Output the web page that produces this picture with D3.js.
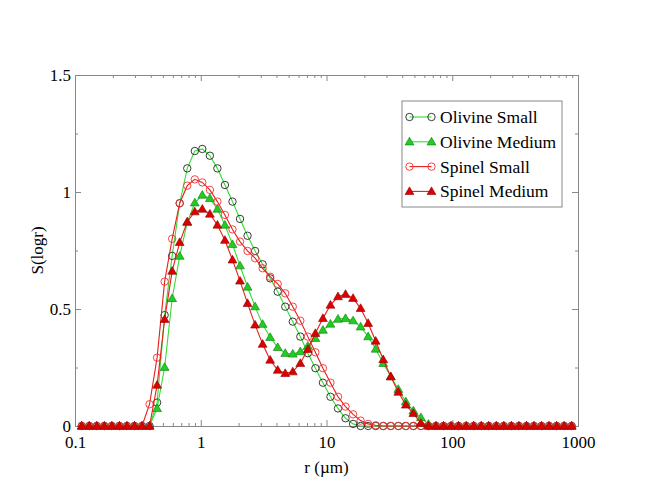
<!DOCTYPE html>
<html>
<head>
<meta charset="utf-8">
<script src="https://cdn.jsdelivr.net/npm/d3@7"></script>
<style>
  body { margin: 0; background: #fff; }
  svg text { font-family: "Liberation Serif", "Times New Roman", serif !important; fill: #000; }
</style>
</head>
<body>
<svg id="chart"></svg>
<script>
// radius grid (um), log spaced bins
var radii = [0.1131, 0.1298, 0.149, 0.1711, 0.1964, 0.2255, 0.2588, 0.2972, 0.3411, 0.3916,
  0.4496, 0.5162, 0.5925, 0.6802, 0.7809, 0.8965, 1.029, 1.182, 1.356, 1.557,
  1.788, 2.052, 2.356, 2.705, 3.105, 3.564, 4.092, 4.698, 5.393, 6.191,
  7.107, 8.159, 9.367, 10.75, 12.34, 14.17, 16.27, 18.68, 21.44, 24.61,
  28.26, 32.44, 37.24, 42.75, 49.08, 56.34, 64.68, 74.25, 85.24, 97.86,
  112.3, 129.0, 148.1, 170.0, 195.1, 224.0, 257.1, 295.2, 338.9, 389.0,
  446.6, 512.7, 588.6, 675.7, 775.7, 890.5];

var olivineSmall = [0, 0, 0, 0, 0, 0, 0, 0, 0, 0,
  0.10, 0.474, 0.727, 0.952, 1.101, 1.175, 1.184, 1.155, 1.101, 1.03,
  0.959, 0.885, 0.813, 0.748, 0.691, 0.631, 0.574, 0.51, 0.446, 0.382,
  0.311, 0.247, 0.185, 0.125, 0.075, 0.033, 0.009, 0, 0, 0,
  0, 0, 0, 0, 0, 0, 0, 0, 0, 0,
  0, 0, 0, 0, 0, 0, 0, 0, 0, 0,
  0, 0, 0, 0, 0, 0];

var olivineMedium = [0, 0, 0, 0, 0, 0, 0, 0, 0, 0,
  0.075, 0.251, 0.545, 0.726, 0.87, 0.954, 0.987, 0.973, 0.927, 0.859,
  0.776, 0.685, 0.594, 0.51, 0.435, 0.379, 0.336, 0.311, 0.308, 0.318,
  0.342, 0.375, 0.41, 0.436, 0.457, 0.46, 0.45, 0.424, 0.382, 0.329,
  0.268, 0.211, 0.157, 0.104, 0.065, 0.036, 0.008, 0, 0, 0,
  0, 0, 0, 0, 0, 0, 0, 0, 0, 0,
  0, 0, 0, 0, 0, 0];

var spinelSmall = [0, 0, 0, 0, 0, 0, 0, 0, 0, 0.093,
  0.292, 0.617, 0.80, 0.952, 1.027, 1.054, 1.041, 1.009, 0.959, 0.902,
  0.84, 0.788, 0.748, 0.717, 0.674, 0.638, 0.607, 0.567, 0.51, 0.45,
  0.382, 0.315, 0.247, 0.185, 0.125, 0.083, 0.05, 0.023, 0.009, 0.003,
  0, 0, 0, 0, 0, 0, 0, 0, 0, 0,
  0, 0, 0, 0, 0, 0, 0, 0, 0, 0,
  0, 0, 0, 0, 0, 0];

var spinelMedium = [0, 0, 0, 0, 0, 0, 0, 0, 0, 0,
  0.175, 0.456, 0.662, 0.785, 0.873, 0.916, 0.927, 0.906, 0.859, 0.794,
  0.71, 0.62, 0.524, 0.432, 0.35, 0.282, 0.239, 0.225, 0.232, 0.268,
  0.328, 0.396, 0.46, 0.517, 0.553, 0.563, 0.546, 0.503, 0.439, 0.363,
  0.284, 0.211, 0.145, 0.09, 0.054, 0.012, 0, 0, 0, 0,
  0, 0, 0, 0, 0, 0, 0, 0, 0, 0,
  0, 0, 0, 0, 0, 0];

var seriesNames = ["Olivine Small", "Olivine Medium", "Spinel Small", "Spinel Medium"];
var xTicks = [0.1, 1, 10, 100, 1000];
var yTicks = [0, 0.5, 1, 1.5];
var yMinorTicks = [0.25, 0.75, 1.25];

var screen = { width: 650, height: 502 };
var margins = { top: 75, bottom: 76, left: 75, right: 72 };
var graph = {
  width: screen.width - margins.left - margins.right,
  height: screen.height - margins.top - margins.bottom
};

var styles = [
  { line: "#33dd33", symbol: "circle", stroke: "#222", fill: "none" },
  { line: "#33dd33", symbol: "triangle", stroke: "#0a7a0a", fill: "#22cc22" },
  { line: "#e81c1c", symbol: "circle", stroke: "#f03030", fill: "none" },
  { line: "#e81c1c", symbol: "triangle", stroke: "#8a0000", fill: "#dd0000" }
];

var svg = d3.select("#chart").attr("width", screen.width).attr("height", screen.height);

var xScale = d3.scaleLog().domain([0.1, 1000]).range([0, graph.width]);
var yScale = d3.scaleLinear().domain([0, 1.5]).range([graph.height, 0]);

//minor ticks for log axis
var xMinor = [];
[0.1, 1, 10, 100].forEach(function (d) {
  for (var k = 2; k <= 9; k++) xMinor.push(d * k);
});

var drawAxes = function () {
  var axes = svg.append("g").attr("transform", "translate(" + margins.left + "," + margins.top + ")");

  var fmt = function (d) { return String(d); };

  axes.append("g").attr("transform", "translate(0," + graph.height + ")")
    .call(d3.axisBottom(xScale).tickValues(xTicks).tickFormat(fmt).tickSize(-6).tickPadding(10));
  axes.append("g").attr("transform", "translate(0," + graph.height + ")")
    .call(d3.axisBottom(xScale).tickValues(xMinor).tickFormat("").tickSize(-3));
  axes.append("g")
    .call(d3.axisTop(xScale).tickValues(xTicks).tickFormat("").tickSize(-6));
  axes.append("g")
    .call(d3.axisTop(xScale).tickValues(xMinor).tickFormat("").tickSize(-3));

  var left = axes.append("g")
    .call(d3.axisLeft(yScale).tickValues(yTicks).tickFormat(fmt).tickSize(-6).tickPadding(4));
  axes.append("g")
    .call(d3.axisLeft(yScale).tickValues(yMinorTicks).tickFormat("").tickSize(-3));
  axes.append("g").attr("transform", "translate(" + graph.width + ",0)")
    .call(d3.axisRight(yScale).tickValues(yTicks).tickFormat("").tickSize(-6));
  axes.append("g").attr("transform", "translate(" + graph.width + ",0)")
    .call(d3.axisRight(yScale).tickValues(yMinorTicks).tickFormat("").tickSize(-3));

  axes.selectAll("g").attr("font-family", "Liberation Serif").attr("font-size", 17);
  axes.selectAll(".domain").attr("stroke", "#888").attr("stroke-width", 1);
  axes.selectAll(".tick line").attr("stroke", "#888");
  axes.selectAll(".tick text").attr("fill", "#000");
  left.selectAll(".tick text").attr("dy", "0.3em");
};

var drawLabels = function () {
  svg.append("text")
    .text("r (\u00b5m)")
    .attr("text-anchor", "middle")
    .attr("font-size", 17)
    .attr("x", margins.left + graph.width / 2)
    .attr("y", 473);

  svg.append("g")
    .attr("transform", "translate(43," + (margins.top + graph.height / 2) + ")")
    .append("text")
    .text("S(logr)")
    .attr("text-anchor", "middle")
    .attr("font-size", 17)
    .attr("transform", "rotate(-90)");
};

var addSymbol = function (sel, st) {
  if (st.symbol == "circle") {
    sel.append("circle")
      .attr("r", 3.7)
      .attr("fill", st.fill)
      .attr("stroke", st.stroke)
      .attr("stroke-width", 0.9);
  } else {
    sel.append("path")
      .attr("d", d3.symbol().type(d3.symbolTriangle).size(34)())
      .attr("transform", "translate(0,0.6)")
      .attr("fill", st.fill)
      .attr("stroke", st.stroke)
      .attr("stroke-width", 0.6);
  }
};

var drawSeries = function (values, st) {
  var g = svg.append("g").attr("transform", "translate(" + margins.left + "," + margins.top + ")");
  var pts = values.map(function (v, i) { return { r: radii[i], v: v }; });

  var line = d3.line()
    .x(function (d) { return xScale(d.r); })
    .y(function (d) { return yScale(d.v); });

  g.append("path")
    .datum(pts)
    .attr("d", line)
    .attr("fill", "none")
    .attr("stroke", st.line)
    .attr("stroke-width", 1.1);

  g.selectAll("g.pt")
    .data(pts)
    .enter()
    .append("g")
    .classed("pt", true)
    .attr("transform", function (d) {
      return "translate(" + xScale(d.r) + "," + yScale(d.v) + ")";
    })
    .each(function () { addSymbol(d3.select(this), st); });
};

var drawLegend = function () {
  var lg = svg.append("g").attr("transform", "translate(402,101)");
  lg.append("rect")
    .attr("width", 160).attr("height", 106)
    .attr("fill", "#fff").attr("stroke", "#888").attr("stroke-width", 1);

  seriesNames.forEach(function (name, i) {
    var st = styles[i];
    var cy = 16 + i * 24.8;
    var row = lg.append("g").attr("transform", "translate(0," + cy + ")");
    row.append("line")
      .attr("x1", 7.5).attr("x2", 29.5).attr("y1", 0).attr("y2", 0)
      .attr("stroke", st.line).attr("stroke-width", 1.1);
    addSymbol(row.append("g").attr("transform", "translate(7.5,0)"), st);
    addSymbol(row.append("g").attr("transform", "translate(29.5,0)"), st);
    row.append("text")
      .text(name)
      .attr("x", 38)
      .attr("y", 6)
      .attr("font-size", 17.5);
  });
};

drawAxes();
drawSeries(olivineSmall, styles[0]);
drawSeries(olivineMedium, styles[1]);
drawSeries(spinelSmall, styles[2]);
drawSeries(spinelMedium, styles[3]);
drawLabels();
drawLegend();
</script>
</body>
</html>
